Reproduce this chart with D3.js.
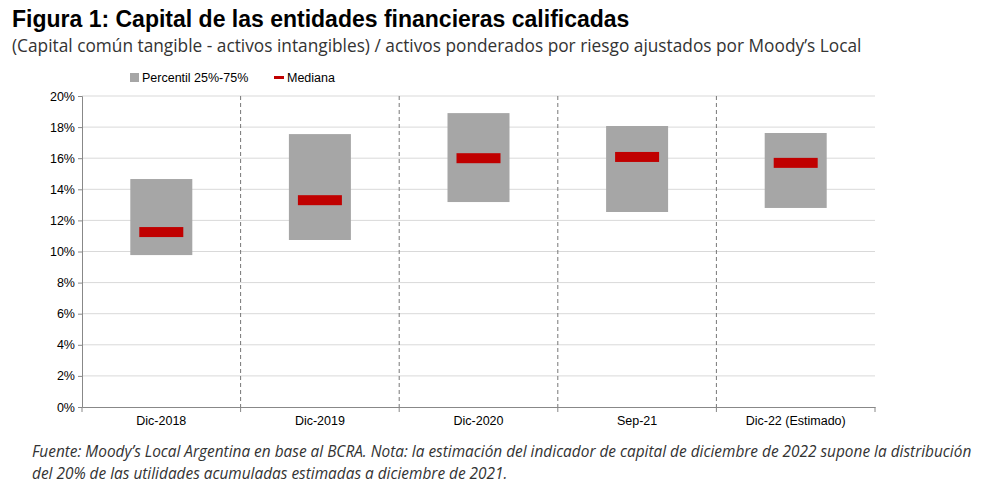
<!DOCTYPE html>
<html><head><meta charset="utf-8">
<script src="https://cdn.jsdelivr.net/npm/d3@7"></script>
<style>body{margin:0;background:#fff;font-family:"Liberation Sans",Arial,sans-serif}</style>
</head><body><svg id="c" width="1007" height="493"></svg>
<script>
const categories=["Dic-2018","Dic-2019","Dic-2020","Sep-21","Dic-22 (Estimado)"];
const p25=[9.77,10.74,13.18,12.54,12.8];
const p75=[14.66,17.55,18.9,18.07,17.62];
const median=[11.25,13.3,16.0,16.08,15.7];
const yTicks=[0,2,4,6,8,10,12,14,16,18,20];

const svg=d3.select("#c");
const m={l:82,r:875,t:96,b:407};
const x=d3.scaleBand().domain(categories).range([m.l,m.r]);
const y=d3.scaleLinear().domain([0,20]).range([m.b,m.t]);

svg.append("text").attr("x",12).attr("y",27).attr("font-size",23).attr("font-weight","bold").attr("fill","#000").text("Figura 1: Capital de las entidades financieras calificadas");
svg.append("text").attr("x",12).attr("y",52).attr("font-size",17.3).attr("fill","#333").attr("font-family","Open Sans").text("(Capital común tangible - activos intangibles) / activos ponderados por riesgo ajustados por Moody’s Local");

svg.append("g").selectAll("line").data(yTicks.slice(1)).join("line")
 .attr("x1",m.l).attr("x2",m.r).attr("y1",d=>y(d)).attr("y2",d=>y(d)).attr("stroke","#d9d9d9");
svg.append("g").selectAll("line").data(categories.slice(1)).join("line")
 .attr("x1",d=>x(d)).attr("x2",d=>x(d)).attr("y1",m.t).attr("y2",m.b).attr("stroke","#777").attr("stroke-dasharray","4,3");
const ya=svg.append("g").attr("transform",`translate(${m.l},0)`).call(d3.axisLeft(y).tickValues(yTicks).tickFormat(d=>d+"%").tickSize(4));
const xa=svg.append("g").attr("transform",`translate(0,${m.b})`).call(d3.axisBottom(x).tickSize(0).tickPadding(9));
svg.append("g").selectAll("line").data(categories.concat(["end"])).join("line")
 .attr("x1",(d,i)=>m.l+i*x.bandwidth()).attr("x2",(d,i)=>m.l+i*x.bandwidth()).attr("y1",m.b).attr("y2",m.b+5).attr("stroke","#888");
[ya,xa].forEach(a=>{a.selectAll("path,line").attr("stroke","#888");a.selectAll("text").attr("font-size",12.5).attr("fill","#000").attr("font-family","Liberation Sans, Arial")});

const bw=62,mw=44;
svg.append("g").selectAll("rect").data(categories).join("rect")
 .attr("x",d=>x(d)+x.bandwidth()/2-bw/2).attr("width",bw)
 .attr("y",(d,i)=>y(p75[i])).attr("height",(d,i)=>y(p25[i])-y(p75[i])).attr("fill","#a6a6a6");
svg.append("g").selectAll("rect").data(categories).join("rect")
 .attr("x",d=>x(d)+x.bandwidth()/2-mw/2).attr("width",mw)
 .attr("y",(d,i)=>y(median[i])-5).attr("height",10).attr("fill","#c00000");

svg.append("rect").attr("x",130).attr("y",73).attr("width",9).attr("height",9).attr("fill","#a6a6a6");
svg.append("text").attr("x",142).attr("y",82).attr("font-size",12.5).text("Percentil 25%-75%");
svg.append("rect").attr("x",274).attr("y",76).attr("width",10).attr("height",3).attr("fill","#c00000");
svg.append("text").attr("x",287).attr("y",82).attr("font-size",12.5).text("Mediana");

const f=svg.append("text").attr("font-size",15.4).attr("font-style","italic").attr("fill","#333").attr("font-family","Open Sans");
f.append("tspan").attr("x",32).attr("y",457).text("Fuente: Moody’s Local Argentina en base al BCRA. Nota: la estimación del indicador de capital de diciembre de 2022 supone la distribución");
f.append("tspan").attr("x",32).attr("y",479).text("del 20% de las utilidades acumuladas estimadas a diciembre de 2021.");
</script></body></html>
